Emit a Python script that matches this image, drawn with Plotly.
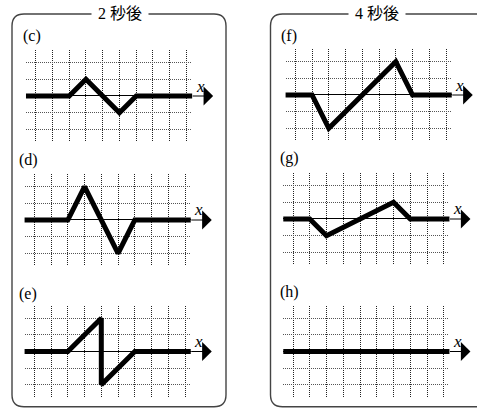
import plotly.graph_objects as go

W, H = 477, 408

# ---- data (grid units: x = grid column, y = displacement) ----
c_x = [-1, 2, 3, 5, 6, 10]
c_y = [0, 0, 1, -1, 0, 0]
d_x = [-1, 2, 3, 5, 6, 10]
d_y = [0, 0, 2, -2, 0, 0]
e_x = [-1, 2, 4, 4, 6, 10]
e_y = [0, 0, 2, -2, 0, 0]
f_x = [-1, 1, 2, 6, 7, 10]
f_y = [0, 0, -2, 2, 0, 0]
g_x = [-1, 1, 2, 6, 7, 10]
g_y = [0, 0, -1, 1, 0, 0]
h_x = [-1, 10]
h_y = [0, 0]

grid_cols = [0, 1, 2, 3, 4, 5, 6, 7, 8, 9]
grid_rows = [-2, -1, 0, 1, 2]

panel_names = ["c", "d", "e", "f", "g", "h"]
panel_labels = ["(c)", "(d)", "(e)", "(f)", "(g)", "(h)"]
group_titles = ["2 秒後", "4 秒後"]
waves = {"c": (c_x, c_y), "d": (d_x, d_y), "e": (e_x, e_y),
         "f": (f_x, f_y), "g": (g_x, g_y), "h": (h_x, h_y)}

# ---- layout geometry (pixels) ----
origin = {"c": (35.7, 96.0), "d": (34.3, 220.0), "e": (34.3, 351.5),
          "f": (295.3, 95.0), "g": (293.0, 219.0), "h": (293.0, 351.5)}
label_pos = {"c": (21, 36), "d": (17, 160), "e": (17, 294),
             "f": (279, 36), "g": (278, 158), "h": (278, 292)}
UX, UY = 16.75, 16.67
XR = [-0.58, 9.34]
YR = [-2.75, 2.75]

def px(x):
    return x / W

def py(y):
    return 1 - y / H

fig = go.Figure()
annotations = []
shapes = []

for i, n in enumerate(panel_names):
    k = "" if i == 0 else str(i + 1)
    ox, oy = origin[n]
    left = ox + XR[0] * UX
    right = ox + XR[1] * UX
    top = oy - YR[1] * UY
    bottom = oy - YR[0] * UY
    xs, ys = waves[n]
    fig.add_trace(go.Scatter(x=xs, y=ys, mode="lines",
                             line=dict(color="black", width=5),
                             xaxis="x" + k, yaxis="y" + k,
                             showlegend=False, hoverinfo="skip"))
    fig.layout["xaxis" + k] = dict(domain=[px(left), px(right)], range=XR,
                                   anchor="y" + k, tickmode="array",
                                   tickvals=grid_cols,
                                   showgrid=True, gridcolor="#222",
                                   griddash="1px,1px", gridwidth=1,
                                   zeroline=False, showticklabels=False,
                                   showline=False, ticks="", fixedrange=True)
    fig.layout["yaxis" + k] = dict(domain=[py(bottom), py(top)], range=YR,
                                   anchor="x" + k, tickmode="array",
                                   tickvals=grid_rows,
                                   showgrid=True, gridcolor="#555",
                                   griddash="1px,1px", gridwidth=1,
                                   zeroline=True, zerolinecolor="black",
                                   zerolinewidth=1, showticklabels=False,
                                   showline=False, ticks="", fixedrange=True)
    # axis arrow
    annotations.append(dict(x=px(right + 21), y=py(oy), xref="paper", yref="paper",
                            text="", showarrow=True, ax=-22, ay=0,
                            arrowhead=1, arrowsize=3.2, arrowwidth=1,
                            arrowcolor="black", standoff=0))
    annotations.append(dict(x=px(right + 8), y=py(oy - 10), xref="paper", yref="paper",
                            text="<i>x</i>", showarrow=False,
                            font=dict(family="Liberation Serif", size=17, color="black"),
                            xanchor="center", yanchor="middle"))
    lx, ly = label_pos[n]
    annotations.append(dict(x=px(lx), y=py(ly), xref="paper", yref="paper",
                            text=panel_labels[i], showarrow=False,
                            font=dict(family="Liberation Serif", size=16, color="black"),
                            xanchor="left", yanchor="middle"))

# rounded group boxes
def rounded_box(x0, y0, x1, y1, r):
    return (f"M {px(x0)},{py(y0 + r)} L {px(x0)},{py(y1 - r)} "
            f"Q {px(x0)},{py(y1)} {px(x0 + r)},{py(y1)} "
            f"L {px(x1 - r)},{py(y1)} Q {px(x1)},{py(y1)} {px(x1)},{py(y1 - r)} "
            f"L {px(x1)},{py(y0 + r)} Q {px(x1)},{py(y0)} {px(x1 - r)},{py(y0)} "
            f"L {px(x0 + r)},{py(y0)} Q {px(x0)},{py(y0)} {px(x0)},{py(y0 + r)} Z")

box_geom = [(12, 14, 226, 406.8), (270.5, 14, 492, 406.8)]
for (x0, y0, x1, y1) in box_geom:
    shapes.append(dict(type="path", xref="paper", yref="paper",
                       path=rounded_box(x0, y0, x1, y1, 12),
                       line=dict(color="#444", width=1.4), layer="below"))

title_pos = [(120, 14), (377, 14)]
for t, (tx, ty) in zip(group_titles, title_pos):
    annotations.append(dict(x=px(tx), y=py(ty), xref="paper", yref="paper",
                            text=t, showarrow=False, bgcolor="white", borderpad=6,
                            font=dict(family="Liberation Serif, Noto Sans CJK JP",
                                      size=16, color="black"),
                            xanchor="center", yanchor="middle"))

fig.update_layout(width=W, height=H, margin=dict(l=0, r=0, t=0, b=0),
                  paper_bgcolor="white", plot_bgcolor="rgba(0,0,0,0)",
                  annotations=annotations, shapes=shapes, showlegend=False)

fig.write_html("out.html", config={"displayModeBar": False},
               post_script="document.body.style.margin='0';")
